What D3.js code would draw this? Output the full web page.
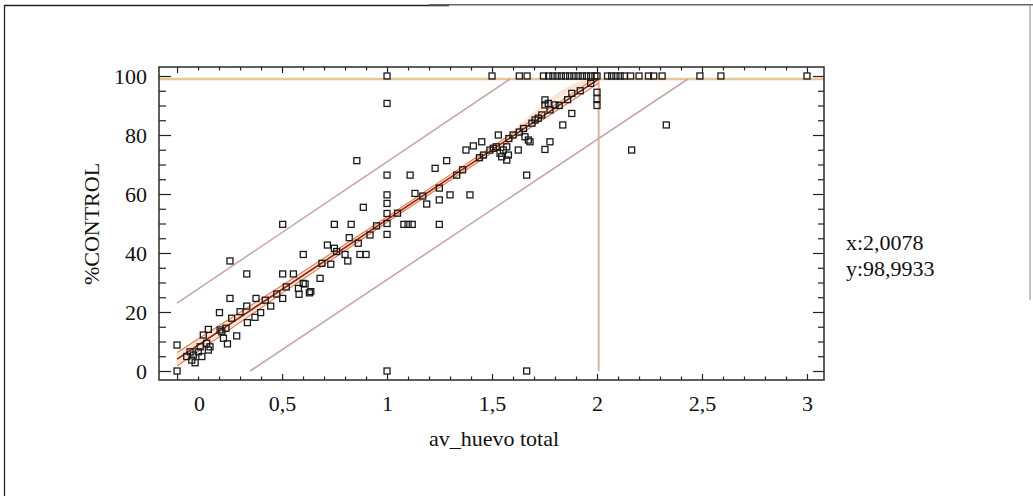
<!DOCTYPE html>
<html>
<head>
<meta charset="utf-8">
<script src="https://cdn.jsdelivr.net/npm/d3@7"></script>
<style>
  body { margin: 0; background: #fff; }
  svg { display: block; }
  text { font-family: "Liberation Serif", "Times New Roman", serif; fill: #111; }
</style>
</head>
<body>
<div id="chart"></div>
<script>
// av_huevo total (x) and %CONTROL (y) for every observation
const avHuevo = [
  // top row (100 %)
  1.0, 1.5, 1.63, 1.667, 1.745, 1.77, 1.79, 1.81, 1.83, 1.85, 1.87, 1.89, 1.91, 1.93, 1.95, 1.97, 1.99, 2.0,
  2.05, 2.07, 2.09, 2.11, 2.13, 2.16, 2.2, 2.245, 2.27, 2.31, 2.49, 2.59, 3.0,
  // column at x = 2
  2.0, 2.0, 2.0,
  // outliers
  2.165, 2.33, 1.665, 1.0, 0.0, 0.0, 1.0, 1.0, 0.856, 0.887, 1.665, 0.252, 0.503, 0.749, 0.829,
  // column at x = 1
  1.0, 1.0, 1.0, 1.0, 1.0,
  // middle
  1.11, 1.229, 1.284, 1.133, 1.189, 1.249, 1.3, 1.395, 1.249, 1.08, 1.1, 1.12, 1.249, 1.332, 1.376, 1.411,
  1.451, 1.459, 1.49, 1.506, 1.53, 1.538, 1.546, 1.554, 1.57, 1.57, 1.578, 1.6, 1.625, 1.65, 1.657, 1.673,
  1.681, 1.705, 1.72, 1.737, 1.752, 1.768, 1.752, 1.8, 1.776, 1.776, 1.752, 1.837, 1.88, 1.88,
  // lower left
  0.919, 0.82, 0.716, 0.749, 0.863, 0.8, 0.871, 0.9, 0.813, 0.732, 0.601, 0.332, 0.503, 0.554, 0.681, 0.601,
  0.578, 0.637, 0.581, 0.475, 0.503, 0.446, 0.252, 0.376, 0.332, 0.3, 0.398, 0.202, 0.371, 0.26, 0.335, 0.233,
  0.205, 0.284, 0.221, 0.24, 0.149, 0.125, 0.141, 0.11, 0.149, 0.101, 0.078, 0.118, 0.062, 0.07, 0.086, 0.046,
  0.157, 0.213, 0.61, 0.63,
  // along the fitted line
  0.42, 0.52, 0.69, 0.76, 0.95, 1.05, 1.17, 1.36, 1.44, 1.52, 1.58, 1.63, 1.69, 1.82, 1.86, 1.92, 1.97
];
const pctControl = [
  100, 100, 100, 100, 100, 100, 100, 100, 100, 100, 100, 100, 100, 100, 100, 100, 100, 100,
  100, 100, 100, 100, 100, 100, 100, 100, 100, 100, 100, 100, 100,
  94.5, 92.3, 90.0,
  74.9, 83.4, 0, 0, 0, 8.8, 90.7, 66.4, 71.3, 55.5, 66.4, 37.3, 49.7, 49.7, 49.7,
  59.7, 56.8, 53.4, 50.0, 46.3,
  66.4, 68.7, 71.3, 60.2, 56.6, 58.0, 59.7, 59.7, 49.7, 49.7, 49.7, 49.7, 62.0, 66.4, 74.9, 76.3,
  77.7, 73.2, 74.9, 75.5, 80.0, 73.8, 72.6, 74.9, 76.0, 71.5, 73.2, 80.0, 74.9, 82.2, 79.4, 78.3,
  77.7, 85.1, 85.7, 86.8, 91.9, 90.7, 90.2, 90.2, 88.5, 77.7, 75.1, 83.4, 87.3, 94.1,
  46.1, 45.2, 42.7, 41.6, 43.3, 39.5, 39.5, 39.5, 37.3, 36.2, 39.5, 32.9, 32.9, 32.9, 31.4, 29.7,
  28.0, 26.9, 26.0, 26.1, 24.6, 22.0, 24.6, 24.6, 22.0, 20.1, 19.8, 19.8, 18.2, 17.9, 16.4, 14.5,
  13.9, 11.9, 11.1, 9.2, 14.1, 12.2, 9.4, 8.2, 7.1, 6.5, 5.4, 4.9, 6.5, 3.7, 2.8, 4.9,
  8.2, 13.3, 29.5, 26.5,
  24.0, 28.5, 36.5, 40.5, 49.2, 53.5, 59.3, 68.2, 72.3, 76.0, 78.8, 81.0, 84.0, 90.0, 92.0, 95.0, 97.5
];

// fitted model lines
const fitLine = [[0, 4.0], [2.0078, 98.99]];
const confUpper = [[0, 6.3], [0.5, 29.0], [1.0, 52.2], [1.5, 76.0], [1.985, 98.99]];
const confLower = [[0, 1.7], [0.5, 26.3], [1.0, 50.4], [1.5, 74.0], [2.0078, 97.6]];
const predUpper = [[0, 23.0], [1.586, 98.99]];
const predLower = [[0.348, 0], [2.433, 98.99]];

// cursor read-out
const cursorX = 2.0078;
const cursorY = 98.9933;
const cursorLabels = ["x:2,0078", "y:98,9933"];

const xMajor = [0, 0.5, 1, 1.5, 2, 2.5, 3];
const xMajorLabels = ["0", "0,5", "1", "1,5", "2", "2,5", "3"];
const yMajor = [0, 20, 40, 60, 80, 100];

const W = 1033, H = 496;
const svg = d3.select("#chart").append("svg").attr("width", W).attr("height", H);

// outer border of the window
svg.append("path").attr("d", "M4.5,496 V5.5 H449").attr("fill", "none").attr("stroke", "#222").attr("stroke-width", 1.3);
svg.append("path").attr("d", "M429,4.7 H1033").attr("fill", "none").attr("stroke", "#666").attr("stroke-width", 1.6);
svg.append("path").attr("d", "M1030,5 V300").attr("fill", "none").attr("stroke", "#888").attr("stroke-width", 1);

const plot = {left: 159, right: 824, top: 67, bottom: 380};
const x = d3.scaleLinear().domain([-0.086, 3.081]).range([plot.left, plot.right]);
const y = d3.scaleLinear().domain([-3.05, 103.05]).range([plot.bottom, plot.top]);

const line = d3.line().x(d => x(d[0])).y(d => y(d[1]));
const curve = d3.line().x(d => x(d[0])).y(d => y(d[1])).curve(d3.curveMonotoneX);

// crosshair
svg.append("line")
  .attr("x1", plot.left).attr("x2", plot.right)
  .attr("y1", y(cursorY)).attr("y2", y(cursorY))
  .attr("stroke", "#e8c597").attr("stroke-width", 2.6);
svg.append("line")
  .attr("x1", x(cursorX)).attr("x2", x(cursorX))
  .attr("y1", y(cursorY)).attr("y2", y(0))
  .attr("stroke", "#dcb59d").attr("stroke-width", 2);

// prediction limits
[predUpper, predLower].forEach(p => {
  svg.append("path").attr("d", line(p))
    .attr("fill", "none").attr("stroke", "#c9a7a8").attr("stroke-width", 1.6);
});

// confidence band for the mean
svg.append("path")
  .attr("d", curve(confUpper.concat(confLower.slice().reverse())))
  .attr("fill", "#f3b27e").attr("opacity", 0.35);
[confUpper, confLower].forEach(p => {
  svg.append("path").attr("d", curve(p))
    .attr("fill", "none").attr("stroke", "#e07a48").attr("stroke-width", 1.1);
});
svg.append("path").attr("d", line(fitLine))
  .attr("fill", "none").attr("stroke", "#8e1f14").attr("stroke-width", 1.6);

// observations
const pts = avHuevo.map((v, i) => ({x: v, y: pctControl[i]}));
svg.append("g").selectAll("rect")
  .data(pts)
  .join("rect")
  .attr("x", d => x(d.x) - 3)
  .attr("y", d => y(d.y) - 3)
  .attr("width", 6)
  .attr("height", 6)
  .attr("fill", "none")
  .attr("stroke", "#1b1b1b")
  .attr("stroke-width", 1.3);

// axes
const xMinor = d3.range(0, 31).map(i => i / 10).filter(v => !xMajor.includes(v));
const yMinor = d3.range(0, 21).map(i => i * 5).filter(v => !yMajor.includes(v));

function tickAxis(g) { g.select(".domain").remove(); g.selectAll("line").attr("stroke", "#222").attr("stroke-width", 1.2); }

const gx = svg.append("g").attr("transform", `translate(0,${plot.bottom})`)
  .call(d3.axisBottom(x).tickValues(xMajor).tickSize(-6).tickPadding(15)
    .tickFormat((d, i) => xMajorLabels[i]))
  .call(tickAxis);
gx.selectAll("text").style("font-size", "22px")
  .attr("dx", d => d === 0 ? 22 : 0);
svg.append("g").attr("transform", `translate(0,${plot.bottom})`)
  .call(d3.axisBottom(x).tickValues(xMinor).tickSize(-3.5).tickFormat(""))
  .call(tickAxis);
svg.append("g").attr("transform", `translate(0,${plot.top})`)
  .call(d3.axisTop(x).tickValues(xMajor).tickSize(-6).tickFormat(""))
  .call(tickAxis);
svg.append("g").attr("transform", `translate(0,${plot.top})`)
  .call(d3.axisTop(x).tickValues(xMinor).tickSize(-3.5).tickFormat(""))
  .call(tickAxis);

const gy = svg.append("g").attr("transform", `translate(${plot.left},0)`)
  .call(d3.axisLeft(y).tickValues(yMajor).tickSize(-12).tickPadding(12))
  .call(tickAxis);
gy.selectAll("text").style("font-size", "22px");
svg.append("g").attr("transform", `translate(${plot.left},0)`)
  .call(d3.axisLeft(y).tickValues(yMinor).tickSize(-7).tickFormat(""))
  .call(tickAxis);
svg.append("g").attr("transform", `translate(${plot.right},0)`)
  .call(d3.axisRight(y).tickValues(yMajor).tickSize(-11).tickFormat(""))
  .call(tickAxis);
svg.append("g").attr("transform", `translate(${plot.right},0)`)
  .call(d3.axisRight(y).tickValues(yMinor).tickSize(-6).tickFormat(""))
  .call(tickAxis);

// frame
svg.append("rect")
  .attr("x", plot.left).attr("y", plot.top)
  .attr("width", plot.right - plot.left).attr("height", plot.bottom - plot.top)
  .attr("fill", "none").attr("stroke", "#2a2a2a").attr("stroke-width", 1.5);

// axis titles
svg.append("text")
  .attr("x", 494).attr("y", 446)
  .attr("text-anchor", "middle")
  .style("font-size", "22px")
  .text("av_huevo total");

svg.append("text")
  .attr("transform", "translate(99,224) rotate(-90)")
  .attr("text-anchor", "middle")
  .style("font-size", "22px")
  .text("%CONTROL");

// cursor read-out
cursorLabels.forEach((t, i) => {
  svg.append("text")
    .attr("x", 846).attr("y", 250 + i * 26)
    .style("font-size", "22px")
    .text(t);
});
</script>
</body>
</html>
